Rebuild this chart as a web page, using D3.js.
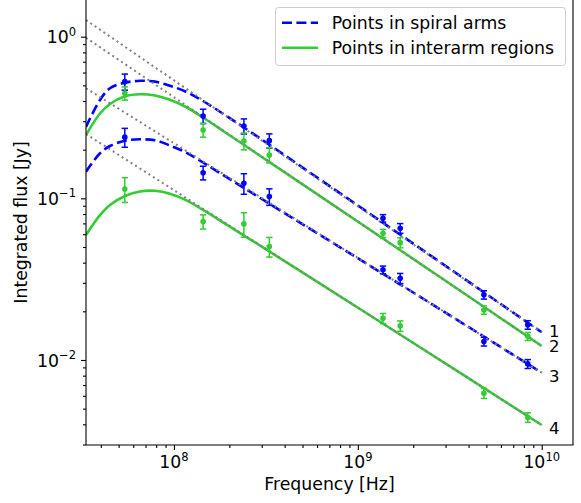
<!DOCTYPE html>
<html><head><meta charset="utf-8">
<script src="https://cdn.jsdelivr.net/npm/d3@7"></script>
<style>
body{margin:0;background:#fff}
svg{display:block}
text{font-family:"DejaVu Sans",sans-serif;fill:#000}
</style>
</head><body>
<svg id="chart" width="581" height="503"></svg>
<script>
// ---- observed data (frequency in Hz, integrated flux in Jy) ----
const freqs = [5.4e7, 1.44e8, 2.4e8, 3.3e8, 1.37e9, 1.7e9, 4.85e9, 8.4e9];

const arm1Flux   = [0.527, 0.323, 0.280, 0.2275, 0.0753, 0.0653, 0.0253, 0.0165];
const arm1Err    = [0.060, 0.033, 0.030, 0.023, 0.0040, 0.0045, 0.0015, 0.0010];
const inter2Flux = [0.447, 0.265, 0.2265, 0.1855, 0.0608, 0.0532, 0.0204, 0.0140];
const inter2Err  = [0.042, 0.026, 0.027, 0.020, 0.0035, 0.0038, 0.0012, 0.0008];
const arm3Flux   = [0.239, 0.144, 0.124, 0.1025, 0.0361, 0.0320, 0.0130, 0.00946];
const arm3Err    = [0.032, 0.014, 0.018, 0.012, 0.0020, 0.0023, 0.0008, 0.0006];
const inter4Flux = [0.1143, 0.0718, 0.0695, 0.0503, 0.0181, 0.01625, 0.00623, 0.00441];
const inter4Err  = [0.020, 0.0072, 0.012, 0.007, 0.0013, 0.0012, 0.00045, 0.0003];

// ---- model curves ----
const modelFreq = [3.321e7, 3.958e7, 4.486e7, 5.414e7, 6.534e7, 7.884e7, 9.511e7, 1.162e8, 1.438e8, 1.894e8, 2.591e8, 4.846e8, 1.696e9, 1e10];
const model1 = [0.2763, 0.4059, 0.4795, 0.5192, 0.5334, 0.5274, 0.4969, 0.4567, 0.4001, 0.3279, 0.2588, 0.1590, 0.05974, 0.01484];
const model2 = [0.2465, 0.3348, 0.3835, 0.4278, 0.4401, 0.4327, 0.4070, 0.3673, 0.3163, 0.2565, 0.2019, 0.1252, 0.04791, 0.01221];
const model3 = [0.1462, 0.1900, 0.2108, 0.2273, 0.2318, 0.2286, 0.2123, 0.1921, 0.1666, 0.1371, 0.1099, 0.07078, 0.02939, 0.008345];
const model4 = [0.05932, 0.07883, 0.09095, 0.1034, 0.1103, 0.1113, 0.1067, 0.09739, 0.08471, 0.06978, 0.05580, 0.03561, 0.01438, 0.003961];

// ---- pure power laws (dotted) ----
const powerFreq = [3.321e7, 1e10];
const power1 = [1.268, 0.01484];
const power2 = [0.9857, 0.01221];
const power3 = [0.4795, 0.008345];
const power4 = [0.2500, 0.003961];

const curveLabels = ["1", "2", "3", "4"];
const legendLabels = ["Points in spiral arms", "Points in interarm regions"];
const xMajorTicks = [1e8, 1e9, 1e10];
const xMajorExp = ["8", "9", "10"];
const yMajorTicks = [1e-2, 1e-1, 1e0];
const yMajorExp = ["\u22122", "\u22121", "0"];
const xTitle = "Frequency [Hz]";
const yTitle = "Integrated flux [Jy]";

// ---- setup ----
const BLUE = "#0000ff", GREEN = "#32cd32", GRAY = "#808080";
const FS = 17.3;
const svg = d3.select("#chart");
const L = 86, R = 573, T = 0, B = 445;
const x = d3.scaleLog().domain([3.322e7, 1.48e10]).range([L, R]);
const y = d3.scaleLog().domain([0.002979, 1.6866]).range([B, T]);

svg.append("defs").append("clipPath").attr("id", "clip")
  .append("rect").attr("x", L).attr("y", T).attr("width", R - L).attr("height", B - T);

const plot = svg.append("g").attr("clip-path", "url(#clip)");

const series = [
  {flux: arm1Flux, err: arm1Err, model: model1, power: power1, color: BLUE, dash: true},
  {flux: inter2Flux, err: inter2Err, model: model2, power: power2, color: GREEN, dash: false},
  {flux: arm3Flux, err: arm3Err, model: model3, power: power3, color: BLUE, dash: true},
  {flux: inter4Flux, err: inter4Err, model: model4, power: power4, color: GREEN, dash: false}
];

const line = d3.line().x(d => x(d[0])).y(d => y(d[1])).curve(d3.curveCatmullRom.alpha(0.5));
const straight = d3.line().x(d => x(d[0])).y(d => y(d[1]));

// model curves
series.forEach(s => {
  plot.append("path")
    .attr("d", line(modelFreq.map((f, i) => [f, s.model[i]])))
    .attr("fill", "none").attr("stroke", s.color).attr("stroke-width", 2.6)
    .attr("stroke-dasharray", s.dash ? "10,4.4" : null);
});
// power laws
series.forEach(s => {
  plot.append("path")
    .attr("d", straight(powerFreq.map((f, i) => [f, s.power[i]])))
    .attr("fill", "none").attr("stroke", GRAY).attr("stroke-width", 2)
    .attr("stroke-dasharray", "2,3.3");
});
// error bars + points
series.forEach(s => {
  const g = plot.append("g");
  freqs.forEach((f, i) => {
    const cx = x(f), v = s.flux[i], e = s.err[i];
    const y1 = y(v + e), y2 = y(v - e);
    g.append("line").attr("x1", cx).attr("x2", cx).attr("y1", y1).attr("y2", y2)
      .attr("stroke", s.color).attr("stroke-width", 1.5);
    [y1, y2].forEach(yy => g.append("line").attr("x1", cx - 3.2).attr("x2", cx + 3.2)
      .attr("y1", yy).attr("y2", yy).attr("stroke", s.color).attr("stroke-width", 1.5));
    g.append("circle").attr("cx", cx).attr("cy", y(v)).attr("r", 2.8).attr("fill", s.color);
  });
});

// curve labels next to curve ends
const labelShift = [4.4, 5.7, 9, 9];
series.forEach((s, i) => {
  const n = modelFreq.length - 1;
  svg.append("text").attr("x", x(modelFreq[n]) + 7.2).attr("y", y(s.model[n]) + labelShift[i])
    .attr("font-size", 16.5).text(curveLabels[i]);
});

// ---- axes ----
function minorTicks(lo, hi) {
  const out = [];
  for (let p = Math.floor(Math.log10(lo)); p <= Math.ceil(Math.log10(hi)); p++)
    for (let k = 2; k <= 9; k++) { const v = k * Math.pow(10, p); if (v >= lo && v <= hi) out.push(v); }
  return out;
}
const axG = svg.append("g");
const xMinor = minorTicks(...x.domain());
const yMinor = minorTicks(...y.domain());

const xAxisMajor = d3.axisBottom(x).tickValues(xMajorTicks).tickSize(5).tickFormat("");
const xAxisMinor = d3.axisBottom(x).tickValues(xMinor).tickSize(3).tickFormat("");
const yAxisMajor = d3.axisLeft(y).tickValues(yMajorTicks).tickSize(5).tickFormat("");
const yAxisMinor = d3.axisLeft(y).tickValues(yMinor).tickSize(3).tickFormat("");
[[xAxisMajor, `translate(0,${B})`], [xAxisMinor, `translate(0,${B})`],
 [yAxisMajor, `translate(${L},0)`], [yAxisMinor, `translate(${L},0)`]].forEach(([a, t]) => {
  const g = axG.append("g").attr("transform", t).call(a);
  g.select(".domain").remove();
  g.selectAll("line").attr("stroke", "#000").attr("stroke-width", 1.1);
});

// spines
axG.append("path").attr("d", `M${L},${T}V${B}H${R}V${T}`)
  .attr("fill", "none").attr("stroke", "#000").attr("stroke-width", 1.1);

// tick labels
xMajorTicks.forEach((v, i) => {
  const t = axG.append("text").attr("x", x(v)).attr("y", B + 23).attr("text-anchor", "middle")
    .attr("font-size", FS);
  t.append("tspan").text("10");
  t.append("tspan").attr("font-size", 11.5).attr("dy", -7.5).text(xMajorExp[i]);
});
yMajorTicks.forEach((v, i) => {
  const t = axG.append("text").attr("x", 76).attr("y", y(v) + 6.6).attr("text-anchor", "end")
    .attr("font-size", FS);
  t.append("tspan").text("10");
  t.append("tspan").attr("font-size", 11.5).attr("dy", -7.5).text(yMajorExp[i]);
});

// axis titles
svg.append("text").attr("x", (L + R) / 2).attr("y", 490).attr("text-anchor", "middle")
  .attr("font-size", FS).text(xTitle);
svg.append("text").attr("transform", `translate(26.5,${(T + B) / 2}) rotate(-90)`)
  .attr("text-anchor", "middle").attr("font-size", FS).text(yTitle);

// ---- legend ----
const lg = svg.append("g");
lg.append("rect").attr("x", 275.5).attr("y", 7.5).attr("width", 290).attr("height", 58).attr("rx", 3)
  .attr("fill", "#fff").attr("fill-opacity", 0.8).attr("stroke", "#cccccc").attr("stroke-width", 1);
[BLUE, GREEN].forEach((c, i) => {
  const yy = 22.7 + i * 25;
  lg.append("line").attr("x1", 282).attr("x2", 318).attr("y1", yy).attr("y2", yy)
    .attr("stroke", c).attr("stroke-width", 2.6).attr("stroke-dasharray", i === 0 ? "10,4.4" : null);
  lg.append("text").attr("x", 331.7).attr("y", yy + 6.3).attr("font-size", FS).text(legendLabels[i]);
});
</script>
</body></html>
